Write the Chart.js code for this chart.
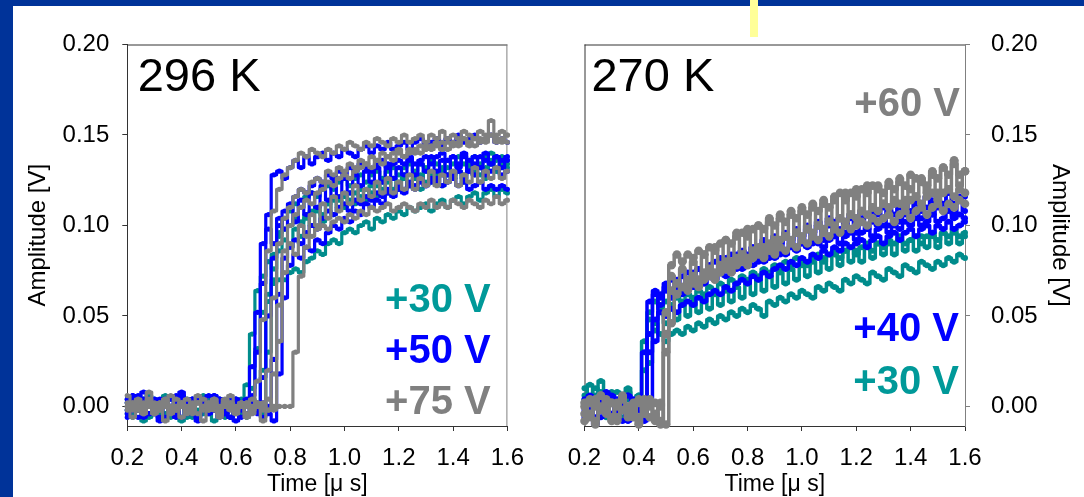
<!DOCTYPE html>
<html><head><meta charset="utf-8">
<script src="https://cdn.jsdelivr.net/npm/chart.js@4.4.0/dist/chart.umd.min.js"></script>
<style>
html,body{margin:0;padding:0;width:1084px;height:497px;overflow:hidden;background:#003399;}
#panel{position:absolute;left:13px;top:6px;width:1071px;height:491px;background:#fff;}
#cl{position:absolute;left:13px;top:6px;width:527px;height:491px;}
#cr{position:absolute;left:540px;top:6px;width:544px;height:491px;}
#mark{position:absolute;left:750px;top:0;width:8px;height:37px;background:#ffff99;}
</style></head><body>
<div id="panel"></div>
<canvas id="cl" width="527" height="491"></canvas>
<canvas id="cr" width="544" height="491"></canvas>
<div id="mark"></div>
<script>
// ---- data (time in microseconds, amplitude in volts) ----
const times = [0.20,0.22,0.24,0.26,0.28,0.30,0.32,0.34,0.36,0.38,0.40,0.42,0.44,0.46,0.48,0.50,0.52,0.54,0.56,0.58,0.60,0.62,0.64,0.66,0.68,0.70,0.72,0.74,0.76,0.78,0.80,0.82,0.84,0.86,0.88,0.90,0.92,0.94,0.96,0.98,1.00,1.02,1.04,1.06,1.08,1.10,1.12,1.14,1.16,1.18,1.20,1.22,1.24,1.26,1.28,1.30,1.32,1.34,1.36,1.38,1.40,1.42,1.44,1.46,1.48,1.50,1.52,1.54,1.56,1.58,1.60];
const xTicks = [0.2,0.4,0.6,0.8,1.0,1.2,1.4,1.6];
const yTicks = [0.00,0.05,0.10,0.15,0.20];

// 296 K panel
const k296_teal_1 = [-0.004,0.002,-0.002,0.004,-0.006,0.000,0.002,-0.004,0.004,-0.002,0.000,-0.006,0.002,0.004,-0.004,0.000,-0.002,0.002,-0.006,0.000,0.004,-0.002,0.002,0.010,0.032,0.052,0.062,0.068,0.070,0.070,0.074,0.076,0.074,0.080,0.082,0.086,0.084,0.090,0.092,0.090,0.096,0.098,0.096,0.100,0.102,0.098,0.104,0.102,0.106,0.104,0.108,0.106,0.110,0.108,0.110,0.112,0.108,0.112,0.114,0.110,0.114,0.116,0.112,0.116,0.118,0.114,0.118,0.120,0.116,0.120,0.118];
const k296_teal_2 = [0.002,-0.004,0.000,-0.006,0.002,0.004,-0.002,0.000,-0.004,0.002,-0.006,0.000,0.004,-0.002,0.002,-0.004,0.000,0.002,-0.002,-0.006,0.000,0.002,-0.004,0.004,0.000,0.020,0.058,0.084,0.094,0.098,0.100,0.104,0.102,0.106,0.108,0.110,0.106,0.112,0.114,0.110,0.116,0.114,0.118,0.116,0.120,0.118,0.122,0.120,0.124,0.120,0.124,0.126,0.122,0.126,0.128,0.124,0.128,0.126,0.130,0.128,0.126,0.130,0.128,0.132,0.130,0.128,0.132,0.134,0.130,0.132,0.134];
const k296_teal_3 = [-0.002,0.000,0.004,-0.004,0.002,-0.002,0.000,0.004,-0.004,-0.002,0.002,0.000,-0.006,0.002,-0.002,0.004,0.000,-0.004,0.002,0.000,-0.002,0.004,-0.006,0.000,0.002,-0.004,0.030,0.070,0.096,0.104,0.108,0.112,0.110,0.116,0.118,0.116,0.120,0.122,0.120,0.124,0.126,0.122,0.126,0.128,0.124,0.128,0.130,0.126,0.130,0.132,0.128,0.132,0.134,0.130,0.134,0.132,0.136,0.134,0.132,0.136,0.134,0.138,0.134,0.136,0.138,0.134,0.138,0.140,0.136,0.138,0.136];
const k296_teal_4 = [0.004,-0.006,0.002,-0.008,0.006,0.000,-0.004,0.006,-0.006,0.002,-0.008,0.004,0.000,-0.006,0.006,-0.002,-0.008,0.004,0.000,-0.006,0.002,-0.004,0.012,0.040,0.064,0.072,0.080,0.076,0.086,0.092,0.088,0.098,0.094,0.104,0.100,0.108,0.102,0.112,0.106,0.114,0.110,0.118,0.112,0.120,0.114,0.122,0.116,0.124,0.118,0.126,0.120,0.128,0.122,0.126,0.120,0.130,0.124,0.128,0.122,0.132,0.126,0.130,0.124,0.134,0.128,0.132,0.126,0.136,0.130,0.134,0.132];
const k296_blue_1 = [0.004,-0.002,0.006,0.000,-0.004,0.004,0.002,-0.006,0.004,0.000,0.008,-0.002,0.004,-0.004,0.002,0.006,-0.002,0.004,0.000,-0.006,0.004,0.002,-0.004,0.022,0.052,0.090,0.106,0.128,0.130,0.126,0.132,0.136,0.132,0.138,0.134,0.138,0.140,0.136,0.140,0.138,0.142,0.140,0.138,0.142,0.144,0.140,0.144,0.142,0.146,0.142,0.144,0.146,0.142,0.146,0.148,0.144,0.146,0.148,0.144,0.148,0.146,0.150,0.146,0.148,0.150,0.146,0.148,0.150,0.146,0.148,0.146];
const k296_blue_2 = [-0.004,0.002,-0.006,0.000,0.004,-0.002,-0.006,0.002,0.000,-0.004,0.004,-0.002,0.000,-0.006,0.002,-0.004,0.004,0.000,-0.002,-0.006,0.002,0.000,-0.004,0.002,-0.002,-0.006,0.000,0.026,0.062,0.082,0.088,0.092,0.090,0.096,0.100,0.098,0.104,0.108,0.106,0.110,0.112,0.108,0.114,0.112,0.116,0.114,0.118,0.116,0.120,0.118,0.122,0.120,0.124,0.122,0.126,0.122,0.124,0.126,0.122,0.124,0.126,0.122,0.124,0.120,0.122,0.124,0.120,0.122,0.120,0.122,0.120];
const k296_blue_3 = [0.002,0.006,-0.002,0.004,0.000,-0.004,0.004,0.002,-0.002,0.006,0.000,0.002,-0.004,0.004,0.000,-0.002,0.006,0.002,-0.004,0.000,0.004,-0.002,0.002,0.000,-0.004,0.016,0.050,0.082,0.100,0.108,0.112,0.116,0.120,0.118,0.122,0.126,0.124,0.128,0.126,0.130,0.128,0.132,0.130,0.134,0.132,0.130,0.134,0.136,0.132,0.134,0.136,0.134,0.138,0.134,0.136,0.138,0.134,0.138,0.140,0.136,0.138,0.134,0.138,0.136,0.134,0.138,0.136,0.134,0.138,0.136,0.138];
const k296_blue_4 = [-0.002,0.004,0.000,-0.006,0.002,-0.004,0.000,0.004,-0.002,0.002,-0.006,0.000,0.004,-0.004,0.002,0.000,-0.002,0.004,-0.004,0.002,0.000,-0.006,0.004,-0.002,0.000,0.002,-0.004,-0.008,0.018,0.060,0.078,0.084,0.082,0.088,0.086,0.092,0.090,0.096,0.100,0.098,0.104,0.102,0.108,0.106,0.112,0.110,0.114,0.112,0.118,0.116,0.120,0.118,0.122,0.120,0.124,0.122,0.126,0.124,0.128,0.124,0.128,0.130,0.126,0.130,0.128,0.132,0.128,0.130,0.132,0.128,0.130];
const k296_blue_5 = [-0.006,0.006,-0.002,0.008,-0.004,0.002,-0.008,0.004,0.000,-0.006,0.006,-0.004,0.002,-0.008,0.004,-0.002,0.006,-0.006,0.000,0.004,-0.008,0.002,-0.004,0.006,0.030,0.068,0.098,0.090,0.104,0.098,0.110,0.102,0.114,0.106,0.118,0.110,0.122,0.114,0.124,0.116,0.126,0.118,0.128,0.122,0.130,0.124,0.132,0.124,0.134,0.126,0.132,0.128,0.136,0.128,0.134,0.130,0.138,0.130,0.136,0.128,0.138,0.132,0.140,0.130,0.138,0.132,0.140,0.134,0.138,0.132,0.136];
const k296_gray_1 = [0.000,-0.002,0.002,-0.004,0.000,0.002,-0.002,0.004,0.000,-0.002,0.002,0.000,-0.004,0.002,0.000,-0.002,0.002,-0.004,0.000,0.002,-0.002,0.000,0.002,-0.002,0.014,0.048,0.086,0.108,0.120,0.128,0.132,0.136,0.140,0.138,0.142,0.140,0.138,0.142,0.140,0.144,0.142,0.146,0.144,0.142,0.146,0.144,0.148,0.146,0.144,0.148,0.146,0.150,0.146,0.148,0.150,0.146,0.150,0.148,0.152,0.148,0.150,0.148,0.152,0.150,0.148,0.152,0.150,0.158,0.150,0.152,0.150];
const k296_gray_2 = [0.002,0.000,-0.002,0.002,0.000,-0.004,0.002,0.000,-0.002,0.004,0.000,-0.002,0.002,-0.004,0.000,0.002,-0.002,0.000,0.004,-0.002,0.000,0.002,-0.004,0.000,0.002,-0.002,0.020,0.060,0.090,0.104,0.110,0.116,0.120,0.118,0.124,0.126,0.124,0.130,0.128,0.132,0.130,0.134,0.132,0.136,0.134,0.138,0.136,0.140,0.138,0.140,0.142,0.138,0.142,0.140,0.144,0.142,0.144,0.146,0.142,0.146,0.144,0.146,0.148,0.144,0.148,0.146,0.148,0.150,0.146,0.148,0.146];
const k296_gray_3 = [-0.002,0.002,0.000,-0.004,0.002,0.000,-0.002,0.004,0.000,-0.002,0.002,-0.004,0.000,0.002,-0.002,0.000,0.004,-0.002,0.000,0.002,-0.004,0.000,0.002,-0.002,0.000,0.002,-0.002,0.000,0.000,0.000,0.000,0.030,0.072,0.088,0.094,0.098,0.100,0.098,0.102,0.104,0.102,0.106,0.104,0.108,0.106,0.110,0.108,0.110,0.112,0.108,0.110,0.112,0.110,0.108,0.112,0.110,0.114,0.110,0.112,0.110,0.114,0.112,0.110,0.114,0.112,0.110,0.114,0.112,0.116,0.112,0.114];
const k296_gray_4 = [0.000,0.002,-0.002,0.000,0.004,-0.002,0.000,0.002,-0.004,0.000,0.002,-0.002,0.000,0.002,0.004,-0.002,0.000,-0.004,0.002,0.000,-0.002,0.002,0.000,-0.004,0.002,0.000,-0.002,0.018,0.056,0.086,0.100,0.106,0.110,0.114,0.112,0.118,0.120,0.124,0.122,0.126,0.128,0.126,0.130,0.132,0.134,0.132,0.136,0.134,0.138,0.136,0.140,0.138,0.140,0.142,0.140,0.144,0.142,0.144,0.146,0.142,0.146,0.144,0.148,0.146,0.144,0.148,0.146,0.150,0.148,0.146,0.150];
const k296_gray_5 = [0.006,-0.006,0.004,-0.002,0.008,-0.004,0.002,-0.008,0.006,0.000,-0.006,0.004,-0.002,0.006,-0.008,0.002,0.004,-0.006,0.000,0.006,-0.004,0.002,-0.006,0.004,0.000,-0.008,0.004,-0.002,0.036,0.074,0.090,0.084,0.100,0.094,0.106,0.100,0.112,0.104,0.116,0.108,0.118,0.112,0.122,0.114,0.120,0.116,0.124,0.118,0.126,0.118,0.124,0.120,0.128,0.120,0.126,0.122,0.130,0.122,0.128,0.124,0.130,0.122,0.128,0.124,0.132,0.124,0.130,0.126,0.132,0.126,0.130];

// 270 K panel
const k270_teal_1 = [0.006,-0.004,0.010,0.002,-0.006,0.004,0.008,-0.002,0.004,0.000,0.006,-0.004,0.024,0.046,0.040,0.036,0.040,0.042,0.040,0.044,0.042,0.046,0.044,0.048,0.046,0.050,0.048,0.052,0.050,0.054,0.052,0.056,0.054,0.050,0.058,0.056,0.060,0.058,0.062,0.060,0.064,0.062,0.060,0.066,0.064,0.068,0.066,0.064,0.070,0.068,0.072,0.070,0.068,0.074,0.072,0.070,0.076,0.074,0.072,0.078,0.076,0.074,0.080,0.078,0.076,0.080,0.078,0.082,0.080,0.084,0.082];
const k270_teal_2 = [0.004,0.012,0.000,0.008,-0.004,0.006,0.002,-0.006,0.008,0.000,0.004,0.020,0.052,0.058,0.054,0.058,0.056,0.060,0.058,0.062,0.060,0.064,0.062,0.066,0.064,0.068,0.066,0.070,0.068,0.072,0.070,0.074,0.072,0.076,0.074,0.078,0.076,0.080,0.078,0.082,0.080,0.078,0.082,0.084,0.080,0.084,0.086,0.082,0.086,0.088,0.084,0.088,0.090,0.086,0.090,0.088,0.092,0.090,0.094,0.090,0.092,0.094,0.090,0.094,0.096,0.092,0.096,0.094,0.098,0.094,0.096];
const k270_teal_3 = [0.010,-0.006,0.006,0.014,-0.004,0.008,-0.008,0.004,0.010,-0.002,0.006,0.036,0.048,0.042,0.052,0.046,0.054,0.048,0.056,0.050,0.058,0.052,0.060,0.054,0.062,0.056,0.064,0.058,0.066,0.060,0.068,0.062,0.070,0.064,0.072,0.066,0.074,0.068,0.076,0.070,0.078,0.072,0.080,0.074,0.082,0.076,0.084,0.078,0.086,0.080,0.086,0.080,0.088,0.082,0.090,0.084,0.090,0.084,0.092,0.086,0.092,0.086,0.094,0.088,0.094,0.088,0.096,0.090,0.096,0.090,0.094];
const k270_blue_1 = [-0.002,0.004,-0.006,0.002,0.006,-0.004,0.000,0.004,-0.008,0.002,-0.002,0.030,0.058,0.062,0.060,0.064,0.062,0.066,0.064,0.068,0.066,0.070,0.068,0.072,0.070,0.074,0.076,0.074,0.078,0.076,0.080,0.078,0.082,0.080,0.084,0.082,0.086,0.084,0.088,0.086,0.090,0.088,0.092,0.090,0.088,0.092,0.094,0.090,0.094,0.096,0.092,0.096,0.098,0.094,0.098,0.100,0.096,0.100,0.098,0.102,0.100,0.104,0.100,0.102,0.106,0.102,0.104,0.108,0.104,0.106,0.104];
const k270_blue_2 = [0.002,-0.006,0.004,0.000,-0.004,0.006,-0.002,0.002,-0.006,0.004,0.000,-0.004,0.030,0.048,0.052,0.050,0.054,0.052,0.056,0.058,0.056,0.060,0.058,0.062,0.064,0.062,0.066,0.064,0.068,0.070,0.068,0.072,0.070,0.074,0.072,0.076,0.078,0.076,0.080,0.078,0.082,0.080,0.084,0.082,0.086,0.084,0.088,0.086,0.090,0.088,0.090,0.092,0.088,0.092,0.094,0.090,0.094,0.096,0.092,0.096,0.098,0.094,0.098,0.100,0.096,0.100,0.098,0.102,0.098,0.100,0.102];
const k270_blue_3 = [0.004,-0.002,0.002,-0.006,0.000,0.004,-0.004,0.002,0.006,-0.002,0.000,-0.006,0.002,0.036,0.062,0.066,0.070,0.068,0.072,0.070,0.074,0.076,0.074,0.078,0.080,0.078,0.082,0.080,0.084,0.086,0.084,0.088,0.086,0.090,0.088,0.092,0.090,0.094,0.092,0.096,0.094,0.098,0.096,0.100,0.098,0.100,0.102,0.098,0.102,0.104,0.100,0.104,0.106,0.102,0.106,0.104,0.108,0.106,0.110,0.106,0.108,0.112,0.108,0.110,0.114,0.110,0.112,0.118,0.112,0.114,0.116];
const k270_blue_4 = [-0.006,0.006,-0.010,0.002,0.008,-0.004,0.004,-0.008,0.006,-0.002,0.004,-0.008,0.040,0.064,0.056,0.068,0.060,0.070,0.062,0.074,0.066,0.076,0.068,0.078,0.070,0.082,0.072,0.084,0.076,0.086,0.078,0.088,0.080,0.092,0.082,0.094,0.084,0.096,0.088,0.098,0.090,0.100,0.090,0.102,0.092,0.104,0.094,0.104,0.096,0.106,0.096,0.108,0.098,0.108,0.100,0.110,0.100,0.112,0.102,0.112,0.104,0.114,0.104,0.116,0.106,0.114,0.108,0.118,0.106,0.116,0.108];
const k270_gray_1 = [0.000,-0.006,0.004,-0.002,0.002,-0.008,0.000,0.004,-0.004,0.002,-0.006,0.000,0.002,-0.004,-0.008,0.052,0.078,0.084,0.080,0.084,0.082,0.086,0.084,0.088,0.086,0.090,0.092,0.090,0.094,0.096,0.094,0.098,0.100,0.098,0.102,0.100,0.104,0.102,0.106,0.104,0.108,0.106,0.110,0.108,0.112,0.110,0.114,0.118,0.114,0.118,0.116,0.120,0.118,0.122,0.120,0.118,0.122,0.120,0.124,0.122,0.120,0.126,0.124,0.122,0.128,0.126,0.132,0.128,0.134,0.128,0.130];
const k270_gray_2 = [-0.004,0.002,-0.008,0.000,0.004,-0.006,0.002,-0.002,0.000,-0.006,0.004,-0.004,0.000,-0.008,0.002,-0.010,0.046,0.062,0.066,0.064,0.068,0.066,0.070,0.072,0.070,0.074,0.076,0.074,0.078,0.080,0.078,0.082,0.084,0.082,0.086,0.084,0.088,0.086,0.090,0.088,0.092,0.090,0.094,0.092,0.096,0.094,0.098,0.096,0.100,0.098,0.100,0.102,0.100,0.104,0.102,0.104,0.106,0.102,0.106,0.108,0.104,0.108,0.110,0.106,0.110,0.112,0.108,0.112,0.110,0.114,0.112];
const k270_gray_3 = [0.002,-0.004,0.000,0.006,-0.002,0.002,-0.006,0.004,0.000,-0.004,0.002,-0.002,0.004,-0.006,0.000,0.030,0.064,0.068,0.066,0.070,0.072,0.070,0.074,0.076,0.074,0.078,0.080,0.078,0.082,0.084,0.082,0.086,0.088,0.086,0.090,0.088,0.092,0.094,0.092,0.096,0.094,0.098,0.096,0.100,0.098,0.102,0.100,0.104,0.102,0.106,0.104,0.108,0.106,0.110,0.108,0.112,0.110,0.114,0.112,0.110,0.114,0.116,0.112,0.116,0.118,0.114,0.118,0.120,0.116,0.120,0.118];
const k270_gray_4 = [-0.008,0.004,-0.010,0.006,-0.004,0.002,-0.008,0.006,-0.006,0.000,-0.010,0.004,-0.006,0.002,-0.010,0.040,0.072,0.062,0.076,0.066,0.080,0.070,0.084,0.074,0.088,0.078,0.092,0.080,0.096,0.084,0.098,0.086,0.100,0.088,0.104,0.092,0.106,0.094,0.108,0.096,0.110,0.098,0.112,0.100,0.114,0.102,0.116,0.104,0.118,0.106,0.120,0.108,0.122,0.110,0.122,0.112,0.124,0.112,0.126,0.114,0.128,0.116,0.126,0.118,0.130,0.118,0.132,0.120,0.136,0.122,0.130];

const leftTitle = '296 K';
const leftVoltages = ['+30 V', '+50 V', '+75 V'];
const rightTitle = '270 K';
const rightVoltages = ['+60 V', '+40 V', '+30 V'];
const xTitle = 'Time [\u03bc s]';
const yTitle = 'Amplitude [V]';

// ---- styles ----
const FONT = "'Liberation Sans', Arial, Helvetica, sans-serif";
Chart.defaults.font.family = FONT;
Chart.defaults.color = '#000';
const LINE = {teal:'#008c8c', blue:'#0000ff', gray:'#808080'};
const TXT = {teal:'#009999', blue:'#0000ff', gray:'#808080'};

function series(arr){ return times.map((t,i)=>({x:t, y:arr[i]})); }
function buildDatasets(groups){
  const ds = [];
  groups.forEach(g => g.traces.forEach(tr => ds.push({
    data: series(tr), borderColor: g.color, backgroundColor: g.color,
    pointBackgroundColor: g.color, pointBorderColor: g.color, pointBorderWidth: 0,
    pointRadius: g.r, pointHoverRadius: g.r, borderWidth: g.w, tension: 0, clip: false,
    stepped: 'middle', borderJoinStyle: 'round'
  })));
  return ds;
}

function framePlugin(side){
  return {
    id: 'frame',
    beforeDatasetsDraw(chart){
      const {ctx, chartArea: a} = chart;
      ctx.save();
      ctx.lineWidth = 1;
      ctx.strokeStyle = '#333';
      ctx.beginPath(); ctx.moveTo(a.left, a.top + 0.5); ctx.lineTo(a.right, a.top + 0.5); ctx.stroke();
      if (side === 'left') {
        ctx.strokeStyle = '#808080';
        ctx.beginPath(); ctx.moveTo(a.right - 0.5, a.top); ctx.lineTo(a.right - 0.5, a.bottom); ctx.stroke();
      } else {
        ctx.strokeStyle = '#333';
        ctx.beginPath(); ctx.moveTo(a.left + 0.5, a.top); ctx.lineTo(a.left + 0.5, a.bottom); ctx.stroke();
      }
      ctx.restore();
    }
  };
}

function textPlugin(items){
  return {
    id: 'panelText',
    afterDatasetsDraw(chart){
      const {ctx, chartArea: a} = chart;
      ctx.save();
      ctx.textBaseline = 'middle';
      items.forEach(it => {
        ctx.font = it.font; ctx.fillStyle = it.color; ctx.textAlign = it.align;
        const x = it.align === 'left' ? a.left + it.dx : a.right - it.dx;
        ctx.fillText(it.text, x, a.top + it.dy);
      });
      ctx.restore();
    }
  };
}

function makeChart(id, side, groups, items){
  const isLeft = side === 'left';
  const cfg = {
    type: 'line',
    data: { datasets: buildDatasets(groups) },
    options: {
      responsive: false, animation: false, devicePixelRatio: 1,
      layout: { padding: isLeft ? {left:0, top:38.5, right:32.6, bottom:0} : {left:44.5, top:38.5, right:0, bottom:0} },
      plugins: { legend: {display:false}, tooltip: {enabled:false} },
      scales: {
        x: {
          type: 'linear', position: 'bottom', min: 0.2, max: 1.6,
          afterBuildTicks: s => { s.ticks = xTicks.map(v => ({value: v})); },
          afterFit: s => { s.height = 71; },
          ticks: { autoSkip:false, maxRotation:0, font:{size:24, lineHeight:1}, color:'#000', padding:15.5, callback: v => Number(v).toFixed(1) },
          grid: { drawOnChartArea:false, drawTicks:true, tickLength:5, color:'#333' },
          border: { display:true, color:'#333', width:1 },
          title: { display:true, text:xTitle, font:{size:23, lineHeight:1}, color:'#000', padding:{top:0, bottom:0.5} }
        },
        y: {
          type: 'linear', position: side, min: -0.0108, max: 0.2,
          afterBuildTicks: s => { s.ticks = yTicks.map(v => ({value: v})); },
          afterFit: s => { s.width = isLeft ? 114.3 : 119; },
          ticks: { autoSkip:false, font:{size:24, lineHeight:1}, color:'#000', padding: isLeft ? 13 : 21, callback: v => Number(v).toFixed(2) },
          grid: { drawOnChartArea:false, drawTicks:true, tickLength:5, color: isLeft ? '#333' : '#808080' },
          border: { display:true, color: isLeft ? '#333' : '#808080', width:1 },
          title: { display:true, text:yTitle, font:{size:24, lineHeight:1}, color:'#000', padding:{top: isLeft ? 13 : 12, bottom:0} }
        }
      }
    },
    plugins: [framePlugin(side), textPlugin(items)]
  };
  return new Chart(document.getElementById(id), cfg);
}

makeChart('cl', 'left', [
  {traces:[k296_gray_1,k296_gray_2,k296_gray_3,k296_gray_4,k296_gray_5], color:LINE.gray, r:2.6, w:3.2},
  {traces:[k296_blue_1,k296_blue_2,k296_blue_3,k296_blue_4,k296_blue_5], color:LINE.blue, r:2.6, w:3.2},
  {traces:[k296_teal_1,k296_teal_2,k296_teal_3,k296_teal_4], color:LINE.teal, r:2.6, w:3.2}
], [
  {text:leftTitle, font:'47px '+FONT, color:'#000', align:'left', dx:10.4, dy:33.5},
  {text:leftVoltages[0], font:'bold 40px '+FONT, color:TXT.teal, align:'right', dx:16.7, dy:256.3},
  {text:leftVoltages[1], font:'bold 40px '+FONT, color:TXT.blue, align:'right', dx:16.7, dy:307.2},
  {text:leftVoltages[2], font:'bold 40px '+FONT, color:TXT.gray, align:'right', dx:16.7, dy:358.5}
]);

makeChart('cr', 'right', [
  {traces:[k270_gray_1,k270_gray_2,k270_gray_3,k270_gray_4], color:LINE.gray, r:4.3, w:3.5},
  {traces:[k270_blue_1,k270_blue_2,k270_blue_3,k270_blue_4], color:LINE.blue, r:3, w:3.5},
  {traces:[k270_teal_1,k270_teal_2,k270_teal_3], color:LINE.teal, r:3, w:3.5}
], [
  {text:rightTitle, font:'47px '+FONT, color:'#000', align:'left', dx:6.9, dy:33.5},
  {text:rightVoltages[0], font:'bold 40px '+FONT, color:TXT.gray, align:'right', dx:5, dy:60.5},
  {text:rightVoltages[1], font:'bold 40px '+FONT, color:TXT.blue, align:'right', dx:6, dy:285.5},
  {text:rightVoltages[2], font:'bold 40px '+FONT, color:TXT.teal, align:'right', dx:6, dy:338.5}
]);
</script>
</body></html>
